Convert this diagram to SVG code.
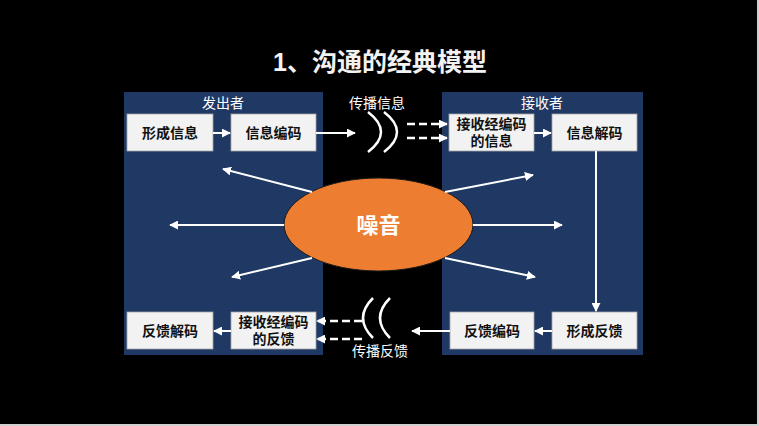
<svg xmlns="http://www.w3.org/2000/svg" width="759" height="426" viewBox="0 0 759 426">
<style>
.panel{fill:#1F3864}
.box{fill:#F2F2F2;stroke:#A6A6A6;stroke-width:0.8}
.bt{font-family:"Liberation Sans","Noto Sans CJK SC",sans-serif;font-size:14px;font-weight:bold;fill:#111;text-anchor:middle}
.lt{font-family:"Liberation Sans","Noto Sans CJK SC",sans-serif;font-size:14px;fill:#fff;text-anchor:middle}
.ln{stroke:#fff;stroke-width:2;fill:none}
.dash{stroke:#fff;stroke-width:2.5;fill:none;stroke-dasharray:8 4}
.arc{stroke:#fff;stroke-width:2.5;fill:none}
</style>
<defs>
<marker id="ah" viewBox="0 0 10 10" refX="9" refY="5" markerWidth="9" markerHeight="9" markerUnits="userSpaceOnUse" orient="auto">
<path d="M0,0 L10,5 L0,10 z" fill="#fff"/>
</marker>
</defs>
<rect x="0" y="0" width="759" height="426" fill="#000"/>
<rect x="757" y="0" width="2" height="426" fill="#D0D0D0"/>
<rect x="0" y="424" width="759" height="2" fill="#D0D0D0"/>
<text x="380" y="71" font-family="'Liberation Sans','Noto Sans CJK SC',sans-serif" font-size="25" font-weight="bold" fill="#F2F2F2" text-anchor="middle">1、沟通的经典模型</text>
<g id="sender">
<rect class="panel" x="124" y="92" width="199" height="263"/>
<text class="lt" x="223" y="108">发出者</text>
</g>
<g id="receiver">
<rect class="panel" x="442" y="92" width="201" height="263"/>
<text class="lt" x="542" y="108">接收者</text>
</g>
<g id="n1"><rect class="box" x="127" y="114" width="86" height="37"/><text class="bt" x="170" y="138">形成信息</text></g>
<g id="n2"><rect class="box" x="231" y="114" width="85" height="37"/><text class="bt" x="273.5" y="138">信息编码</text></g>
<g id="n3"><rect class="box" x="449" y="114" width="85" height="37"/><text class="bt" x="491.5" y="129">接收经编码</text><text class="bt" x="491.5" y="146">的信息</text></g>
<g id="n4"><rect class="box" x="552" y="114" width="85" height="37"/><text class="bt" x="594.5" y="138">信息解码</text></g>
<g id="n5"><rect class="box" x="127" y="312" width="86" height="37"/><text class="bt" x="170" y="336">反馈解码</text></g>
<g id="n6"><rect class="box" x="231" y="312" width="85" height="37"/><text class="bt" x="273.5" y="327">接收经编码</text><text class="bt" x="273.5" y="344">的反馈</text></g>
<g id="n7"><rect class="box" x="450" y="312" width="84" height="37"/><text class="bt" x="492" y="336">反馈编码</text></g>
<g id="n8"><rect class="box" x="552" y="312" width="85" height="37"/><text class="bt" x="594.5" y="336">形成反馈</text></g>
<g id="noise">
<ellipse cx="378.5" cy="224.5" rx="94.5" ry="46.5" fill="#ED7D31" stroke="#1a1a1a" stroke-width="1"/>
<text x="378.5" y="233" font-family="'Liberation Sans','Noto Sans CJK SC',sans-serif" font-size="22" font-weight="bold" fill="#fff" text-anchor="middle">噪音</text>
</g>
<g id="labels">
<text class="lt" x="377" y="108">传播信息</text>
<text class="lt" x="380" y="356">传播反馈</text>
</g>
<g id="connectors">
<line class="ln" x1="213" y1="133" x2="230" y2="133" marker-end="url(#ah)"/>
<line class="ln" x1="316" y1="133" x2="355" y2="133" marker-end="url(#ah)"/>
<path class="arc" d="M368,112 Q394,132 368,152"/>
<path class="arc" d="M384,112 Q410,132 384,152"/>
<line class="dash" x1="407" y1="124" x2="447" y2="124" marker-end="url(#ah)"/>
<line class="dash" x1="407" y1="138" x2="447" y2="138" marker-end="url(#ah)"/>
<line class="ln" x1="534" y1="133" x2="551" y2="133" marker-end="url(#ah)"/>
<line class="ln" x1="596" y1="151" x2="596" y2="311" marker-end="url(#ah)"/>
<line class="ln" x1="552" y1="331" x2="535" y2="331" marker-end="url(#ah)"/>
<line class="ln" x1="450" y1="331" x2="412" y2="331" marker-end="url(#ah)"/>
<path class="arc" d="M373,298 Q353,318 373,338"/>
<path class="arc" d="M390,298 Q370,318 390,338"/>
<line class="dash" x1="362" y1="321" x2="317" y2="321" marker-end="url(#ah)"/>
<line class="dash" x1="362" y1="339" x2="317" y2="339" marker-end="url(#ah)"/>
<line class="ln" x1="231" y1="331" x2="214" y2="331" marker-end="url(#ah)"/>
<line class="ln" x1="312" y1="192" x2="223" y2="169" marker-end="url(#ah)"/>
<line class="ln" x1="284" y1="225" x2="170" y2="225" marker-end="url(#ah)"/>
<line class="ln" x1="312" y1="258" x2="232" y2="277" marker-end="url(#ah)"/>
<line class="ln" x1="445" y1="192" x2="533" y2="175" marker-end="url(#ah)"/>
<line class="ln" x1="473" y1="225" x2="562" y2="225" marker-end="url(#ah)"/>
<line class="ln" x1="445" y1="258" x2="535" y2="277" marker-end="url(#ah)"/>
</g>
</svg>
